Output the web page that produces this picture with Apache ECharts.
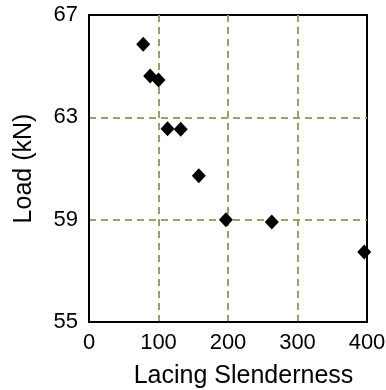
<!DOCTYPE html>
<html>
<head>
<meta charset="utf-8">
<script src="https://cdn.jsdelivr.net/npm/echarts@6/dist/echarts.min.js"></script>
<style>
  html, body { margin: 0; padding: 0; background: #fff; }
  #chart { width: 386px; height: 390px; }
</style>
</head>
<body>
<div id="chart"></div>
<script>
// Lacing slenderness vs. load
const slenderness = [78, 88, 100, 113, 132, 158, 197, 263, 396];
const load = [65.86, 64.62, 64.46, 62.55, 62.53, 60.72, 59.0, 58.91, 57.74];

const xTicks = [0, 400, 100]; // min, max, interval
const yTicks = [55, 67, 4];

const points = slenderness.map((x, i) => [x, load[i]]);

const chart = echarts.init(document.getElementById("chart"));

const gridLine = {
  show: true,
  showMinLine: false,
  showMaxLine: false,
  lineStyle: { color: "#a39a6e", width: 2, type: [7, 5] },
};

const labelFont = {
  color: "#000",
  fontFamily: "Liberation Sans, Arial, sans-serif",
  fontSize: 22,
};

chart.setOption({
  animation: false,
  grid: {
    left: 89,
    right: 19,
    top: 15,
    bottom: 68,
    outerBoundsMode: "none",
    show: true,
    borderColor: "#000",
    borderWidth: 2,
  },
  xAxis: {
    type: "value",
    min: xTicks[0],
    max: xTicks[1],
    interval: xTicks[2],
    name: "Lacing Slenderness",
    nameLocation: "middle",
    nameGap: 42,
    nameTextStyle: { ...labelFont, fontSize: 25, padding: [0, 0, 0, 31] },
    axisLine: { lineStyle: { color: "#000", width: 2 } },
    axisTick: { show: false },
    axisLabel: { ...labelFont, margin: 10 },
    splitLine: gridLine,
  },
  yAxis: {
    type: "value",
    min: yTicks[0],
    max: yTicks[1],
    interval: yTicks[2],
    name: "Load (kN)",
    nameLocation: "middle",
    nameGap: 52,
    nameTextStyle: { ...labelFont, fontSize: 25 },
    axisLine: { lineStyle: { color: "#000", width: 2 } },
    axisTick: { show: false },
    axisLabel: { ...labelFont, margin: 11 },
    splitLine: gridLine,
  },
  series: [
    {
      type: "scatter",
      data: points,
      symbol: "diamond",
      symbolSize: [14, 15],
      itemStyle: { color: "#000", opacity: 1 },
    },
  ],
});
</script>
</body>
</html>
